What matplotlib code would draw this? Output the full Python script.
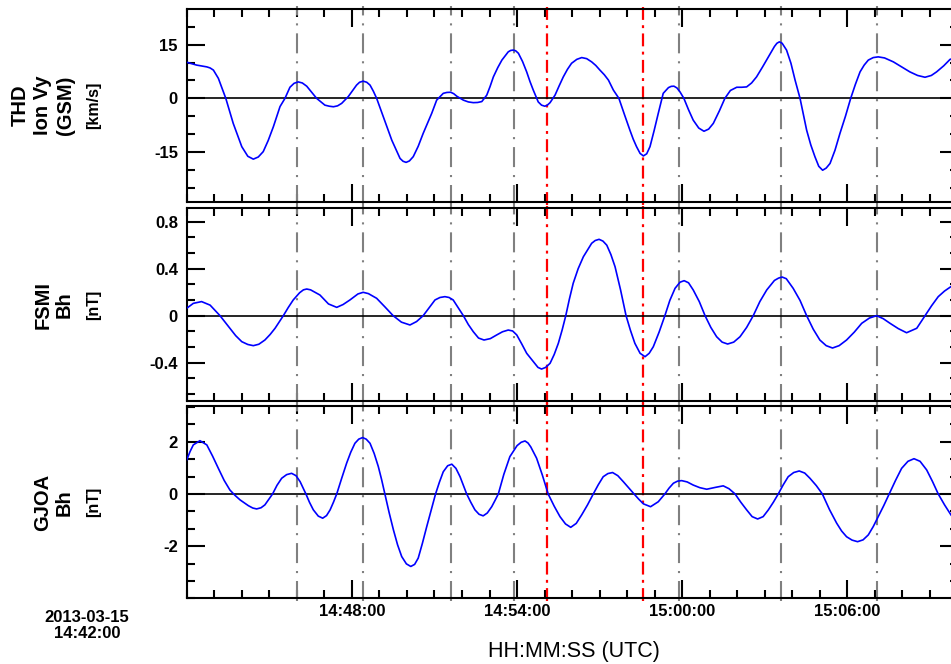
import matplotlib
matplotlib.use('Agg')
import matplotlib.pyplot as plt
from matplotlib.ticker import FixedLocator, FixedFormatter, MultipleLocator
from matplotlib.transforms import blended_transform_factory

plt.rcParams['font.family'] = ['Liberation Sans', 'DejaVu Sans']
plt.rcParams['axes.unicode_minus'] = False

# ---- data: (minutes after 2013-03-15 14:42:00, value) ----
thd_points = [
    (0.00, 10.1), (0.36, 9.3), (0.73, 8.8), (0.85, 8.5), (0.97, 7.9), (1.15, 5.6), (1.42, 0.0),
    (1.69, -7.0), (2.00, -13.5), (2.22, -16.2), (2.42, -17.0), (2.60, -16.4), (2.78, -14.9),
    (2.96, -11.8), (3.15, -7.9), (3.39, -2.3), (3.57, 0.0), (3.75, 3.1), (3.90, 4.2), (4.05, 4.6),
    (4.20, 4.3), (4.36, 3.4), (4.72, 0.0), (5.02, -1.9), (5.18, -2.2), (5.33, -2.35), (5.48, -2.1),
    (5.63, -1.4), (5.87, 0.5), (6.17, 3.7), (6.28, 4.5), (6.41, 4.8), (6.54, 4.5), (6.66, 3.7),
    (6.78, 2.0), (6.90, 0.0), (7.14, -5.1), (7.45, -11.7), (7.75, -16.8), (7.86, -17.6),
    (7.97, -17.9), (8.09, -17.5), (8.23, -16.3), (8.41, -13.4), (8.59, -9.8), (8.90, -4.2),
    (9.08, -0.5), (9.32, 1.4), (9.45, 1.65), (9.59, 1.7), (9.70, 1.3), (9.81, 0.6), (10.05, -0.5),
    (10.23, -1.0), (10.41, -1.2), (10.57, -1.15), (10.72, -0.9), (10.90, 0.9), (11.02, 3.3),
    (11.14, 6.0), (11.30, 8.6), (11.45, 10.7), (11.68, 13.0), (11.77, 13.4), (11.86, 13.5),
    (11.95, 13.3), (12.05, 12.6), (12.20, 10.3), (12.35, 7.4), (12.47, 4.7), (12.59, 2.3),
    (12.77, -1.0), (12.89, -1.9), (13.01, -2.2), (13.10, -1.9), (13.20, -1.2), (13.38, 0.9),
    (13.53, 3.5), (13.68, 6.0), (13.83, 8.1), (13.98, 9.8), (14.17, 10.9), (14.35, 11.4),
    (14.53, 11.1), (14.71, 10.2), (14.86, 9.2), (15.01, 7.9), (15.17, 6.6), (15.32, 5.1),
    (15.50, 2.3), (15.70, 0.0), (15.90, -4.5), (16.10, -8.9), (16.22, -11.4), (16.34, -13.5),
    (16.47, -15.4), (16.59, -16.1), (16.71, -15.5), (16.83, -13.5), (16.98, -9.0), (17.13, -4.2),
    (17.31, 1.4), (17.50, 3.0), (17.60, 3.35), (17.70, 3.4), (17.81, 2.9), (17.92, 1.8),
    (18.06, 0.0), (18.23, -3.2), (18.40, -6.1), (18.60, -8.3), (18.79, -9.2), (18.96, -8.6),
    (19.13, -7.0), (19.35, -3.5), (19.55, 0.0), (19.75, 2.2), (19.98, 3.1), (20.16, 3.1),
    (20.34, 3.2), (20.52, 4.3), (20.70, 6.0), (20.92, 8.8), (21.13, 11.6), (21.35, 14.5),
    (21.44, 15.4), (21.53, 15.8), (21.63, 15.4), (21.79, 13.5), (21.95, 9.8), (22.10, 5.1),
    (22.28, 0.0), (22.52, -8.9), (22.67, -13.0), (22.82, -16.3), (22.96, -19.0), (23.10, -20.1),
    (23.23, -19.5), (23.37, -18.2), (23.55, -14.5), (23.73, -9.8), (23.93, -5.0), (24.12, 0.0),
    (24.29, 3.9), (24.46, 7.4), (24.61, 9.3), (24.76, 10.7), (24.94, 11.4), (25.12, 11.6),
    (25.35, 11.3), (25.67, 10.2), (25.97, 8.8), (26.27, 7.4), (26.55, 6.4), (26.82, 5.9),
    (27.05, 6.4), (27.24, 7.4), (27.50, 9.1), (27.73, 10.9), (28.05, 11.6)]

fsmi_points = [
    (0.00, 0.063), (0.24, 0.105), (0.54, 0.12), (0.85, 0.09), (1.21, 0.0), (1.57, -0.107),
    (1.78, -0.17), (2.00, -0.221), (2.22, -0.245), (2.42, -0.255), (2.62, -0.243), (2.84, -0.207),
    (3.03, -0.16), (3.21, -0.107), (3.51, 0.0), (3.69, 0.07), (3.87, 0.134), (4.10, 0.195),
    (4.24, 0.22), (4.36, 0.227), (4.50, 0.22), (4.84, 0.176), (5.15, 0.10), (5.45, 0.071),
    (5.68, 0.095), (5.93, 0.134), (6.22, 0.185), (6.41, 0.199), (6.60, 0.188), (6.90, 0.148),
    (7.20, 0.075), (7.50, 0.0), (7.80, -0.055), (8.11, -0.079), (8.35, -0.05), (8.59, 0.0),
    (9.02, 0.134), (9.20, 0.155), (9.38, 0.162), (9.53, 0.155), (9.68, 0.134), (10.05, 0.0),
    (10.23, -0.075), (10.41, -0.136), (10.60, -0.19), (10.80, -0.207), (11.03, -0.195),
    (11.26, -0.164), (11.47, -0.137), (11.68, -0.122), (11.84, -0.13), (11.99, -0.164),
    (12.17, -0.24), (12.35, -0.32), (12.62, -0.40), (12.76, -0.44), (12.89, -0.454),
    (13.04, -0.44), (13.20, -0.405), (13.35, -0.33), (13.50, -0.235), (13.64, -0.12),
    (13.77, 0.0), (13.90, 0.14), (14.04, 0.276), (14.22, 0.40), (14.41, 0.502), (14.71, 0.616),
    (14.84, 0.64), (14.98, 0.65), (15.12, 0.635), (15.26, 0.60), (15.41, 0.52), (15.56, 0.417),
    (15.76, 0.22), (15.96, 0.0), (16.12, -0.125), (16.28, -0.235), (16.47, -0.32), (16.65, -0.349),
    (16.80, -0.32), (16.95, -0.264), (17.16, -0.14), (17.37, 0.0), (17.55, 0.13), (17.74, 0.233),
    (17.92, 0.285), (18.07, 0.298), (18.23, 0.28), (18.40, 0.219), (18.62, 0.12), (18.83, 0.0),
    (19.04, -0.10), (19.25, -0.179), (19.45, -0.225), (19.65, -0.241), (19.87, -0.225),
    (20.10, -0.179), (20.34, -0.10), (20.58, 0.0), (20.82, 0.12), (21.07, 0.219), (21.35, 0.30),
    (21.50, 0.32), (21.63, 0.329), (21.78, 0.315), (22.03, 0.233), (22.28, 0.13), (22.52, 0.0),
    (22.76, -0.115), (23.00, -0.207), (23.23, -0.255), (23.46, -0.275), (23.70, -0.255),
    (23.97, -0.207), (24.25, -0.14), (24.52, -0.065), (24.80, -0.02), (25.06, 0.0),
    (25.30, -0.025), (25.55, -0.065), (25.85, -0.11), (26.15, -0.145), (26.52, -0.107),
    (26.82, 0.0), (27.06, 0.085), (27.30, 0.162), (27.53, 0.21), (27.76, 0.247), (28.05, 0.28)]

gjoa_points = [
    (0.00, 1.30), (0.12, 1.62), (0.24, 1.88), (0.48, 2.04), (0.73, 1.88), (0.94, 1.45),
    (1.15, 0.98), (1.36, 0.52), (1.57, 0.15), (1.75, -0.05), (1.94, -0.23), (2.24, -0.45),
    (2.40, -0.54), (2.54, -0.575), (2.70, -0.53), (2.84, -0.42), (3.12, 0.0), (3.28, 0.33),
    (3.45, 0.60), (3.63, 0.74), (3.81, 0.79), (3.97, 0.70), (4.12, 0.47), (4.33, 0.0),
    (4.46, -0.32), (4.60, -0.61), (4.78, -0.85), (4.94, -0.93), (5.08, -0.83), (5.21, -0.61),
    (5.33, -0.32), (5.45, 0.0), (5.63, 0.60), (5.81, 1.18), (5.96, 1.60), (6.11, 1.94),
    (6.25, 2.10), (6.39, 2.16), (6.52, 2.10), (6.66, 1.94), (6.81, 1.55), (6.96, 1.05),
    (7.08, 0.55), (7.20, 0.0), (7.35, -0.70), (7.51, -1.38), (7.66, -1.95), (7.81, -2.40),
    (7.98, -2.68), (8.14, -2.78), (8.28, -2.70), (8.41, -2.46), (8.56, -1.90), (8.72, -1.25),
    (8.88, -0.62), (9.04, 0.0), (9.18, 0.45), (9.32, 0.85), (9.48, 1.08), (9.63, 1.14),
    (9.78, 0.98), (9.93, 0.66), (10.05, 0.33), (10.17, 0.0), (10.32, -0.32), (10.47, -0.61),
    (10.62, -0.78), (10.77, -0.84), (10.92, -0.73), (11.08, -0.49), (11.20, -0.25), (11.32, 0.0),
    (11.52, 0.75), (11.74, 1.43), (12.00, 1.85), (12.15, 1.98), (12.29, 2.03), (12.40, 1.95),
    (12.50, 1.80), (12.71, 1.37), (12.92, 0.72), (13.13, 0.0), (13.35, -0.47), (13.56, -0.87),
    (13.76, -1.15), (13.95, -1.28), (14.15, -1.13), (14.35, -0.80), (14.56, -0.42), (14.77, 0.0),
    (14.95, 0.35), (15.13, 0.66), (15.30, 0.78), (15.47, 0.82), (15.66, 0.70), (15.86, 0.47),
    (16.05, 0.24), (16.25, 0.0), (16.42, -0.20), (16.59, -0.38), (16.85, -0.49), (17.13, -0.30),
    (17.37, 0.0), (17.52, 0.22), (17.68, 0.41), (17.83, 0.49), (17.98, 0.51), (18.18, 0.46),
    (18.40, 0.34), (18.64, 0.24), (18.89, 0.18), (19.20, 0.25), (19.49, 0.31), (19.70, 0.20),
    (19.92, 0.0), (20.13, -0.32), (20.34, -0.61), (20.54, -0.87), (20.74, -0.96), (20.94, -0.87),
    (21.13, -0.61), (21.31, -0.32), (21.49, 0.0), (21.67, 0.35), (21.85, 0.66), (22.05, 0.82),
    (22.25, 0.88), (22.45, 0.80), (22.64, 0.60), (22.87, 0.32), (23.09, 0.0), (23.35, -0.60),
    (23.61, -1.12), (23.79, -1.42), (23.97, -1.64), (24.17, -1.77), (24.37, -1.83),
    (24.57, -1.76), (24.76, -1.57), (24.94, -1.25), (25.12, -0.87), (25.32, -0.45), (25.52, 0.0),
    (25.75, 0.52), (25.97, 0.98), (26.20, 1.25), (26.42, 1.35), (26.64, 1.25), (26.88, 0.92),
    (27.09, 0.48), (27.30, 0.0), (27.53, -0.42), (27.76, -0.80), (28.05, -1.20)]

grey_marks = [4.00, 6.39, 9.60, 11.90, 17.88, 21.59, 25.06]
red_marks = [13.10, 16.56]

x_tick_pos = [6, 12, 18, 24]
x_tick_labels = ['14:48:00', '14:54:00', '15:00:00', '15:06:00']

panel_labels = [(['THD', 'Ion Vy', '(GSM)'], '[km/s]'),
                (['FSMI', 'Bh'], '[nT]'),
                (['GJOA', 'Bh'], '[nT]')]
y_ticks = [([-15, 0, 15], ['-15', '0', '15']),
           ([-0.4, 0, 0.4, 0.8], ['-0.4', '0', '0.4', '0.8']),
           ([-2, 0, 2], ['-2', '0', '2'])]
y_minor = [5, 0.4 / 3, 2 / 3]
y_lims = [(-28.9, 24.9), (-0.726, 0.914), (-4.0, 3.37)]

# ---- layout ----
W, H = 951, 664
fig = plt.figure(figsize=(W / 100, H / 100), dpi=100)
x_left, x_right = 186.7, 957.5
panel_px = [(9.3, 201.7), (208.3, 401.0), (406.0, 598.3)]
series = [thd_points, fsmi_points, gjoa_points]

grey_ls = (0, (9.6, 3.8, 1.0, 3.8))
red_ls = (0, (5.8, 2.4, 1.3, 2.4))

for i, (top, bot) in enumerate(panel_px):
    ax = fig.add_axes([x_left / W, 1 - bot / H, (x_right - x_left) / W, (bot - top) / H])
    pts = sorted(series[i])
    t = [p[0] for p in pts]
    v = [p[1] for p in pts]
    ax.plot(t, v, color='#0000ff', lw=1.2, zorder=4, solid_joinstyle='round')
    ax.axhline(0, color='black', lw=1.2, zorder=3)
    tr = blended_transform_factory(ax.transData, ax.transAxes)
    for m in grey_marks:
        ax.plot([m, m], [-0.015, 1.015], transform=tr, clip_on=False, color='#808080',
                lw=1.5, linestyle=grey_ls, zorder=2)
    for m in red_marks:
        ax.plot([m, m], [-0.015, 1.015], transform=tr, clip_on=False, color='#ff0000',
                lw=1.6, linestyle=red_ls, zorder=2)
    ax.set_xlim(0, 28)
    ax.set_ylim(*y_lims[i])
    ax.xaxis.set_major_locator(FixedLocator(x_tick_pos))
    ax.xaxis.set_minor_locator(MultipleLocator(1))
    ax.yaxis.set_major_locator(FixedLocator(y_ticks[i][0]))
    ax.yaxis.set_major_formatter(FixedFormatter(y_ticks[i][1]))
    ax.yaxis.set_minor_locator(MultipleLocator(y_minor[i]))
    ax.tick_params(which='both', direction='in', top=True, right=True, width=1.5, color='black')
    ax.tick_params(which='major', length=12.7)
    ax.tick_params(which='minor', length=5.5)
    ax.tick_params(axis='y', labelsize=12, pad=6.3)
    for lab in ax.get_yticklabels():
        lab.set_fontweight('bold')
    for s in ax.spines.values():
        s.set_linewidth(1.5)
    if i < 2:
        ax.set_xticklabels([])
    else:
        ax.set_xticklabels(x_tick_labels)
        ax.tick_params(axis='x', labelsize=12, pad=4.0)
        for lab in ax.get_xticklabels():
            lab.set_fontweight('bold')

    yc = 1 - (top + bot) / 2 / H
    names, unit = panel_labels[i]
    cols = [20, 42, 65] if len(names) == 3 else [43, 64]
    for name, xc in zip(names, cols):
        fig.text(xc / W, yc, name, rotation=90, ha='center', va='center',
                 fontsize=14.5, fontweight='bold')
    fig.text(94 / W, yc, unit, rotation=90, ha='center', va='center',
             fontsize=11.5, fontweight='bold')

fig.text(87 / W, 1 - 617 / H, '2013-03-15', ha='center', va='center', fontsize=12, fontweight='bold')
fig.text(87 / W, 1 - 633 / H, '14:42:00', ha='center', va='center', fontsize=12, fontweight='bold')
fig.text(574 / W, 1 - 651 / H, 'HH:MM:SS (UTC)', ha='center', va='center', fontsize=15.5)

fig.savefig('out.png', dpi=100)
